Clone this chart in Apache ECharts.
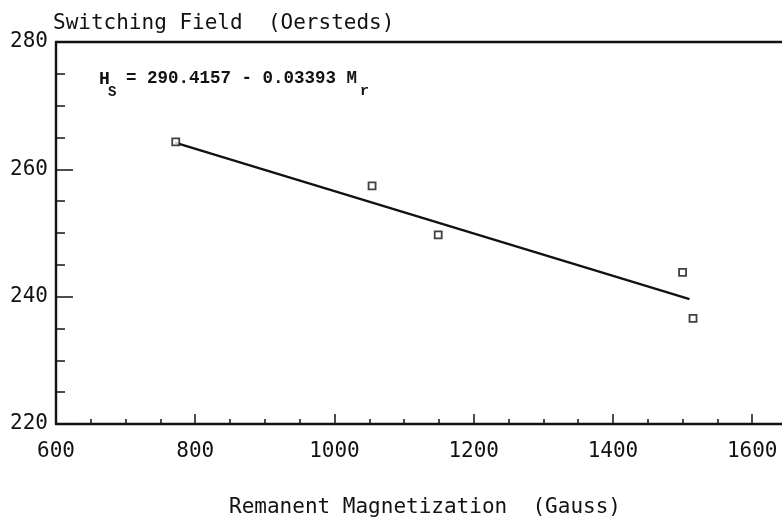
<!DOCTYPE html>
<html>
<head>
<meta charset="utf-8">
<style>html,body{margin:0;padding:0;background:#fff;}#c{width:782px;height:519px;}</style>
<script src="https://cdn.jsdelivr.net/npm/echarts@6/dist/echarts.min.js"></script>
</head>
<body>
<div id="c"></div>
<script>
// Data
var magX = [772, 1054, 1149, 1500, 1515];          // Remanent magnetization (Gauss)
var fieldY = [264.3, 257.4, 249.7, 243.8, 236.6];  // Switching field (Oersteds)
var fitX = [771, 1510];                             // regression line end points
var fitY = [264.2, 239.6];
var xTickLabels = [600, 800, 1000, 1200, 1400, 1600];
var yTickLabels = [220, 240, 260, 280];
var yTitle = 'Switching Field  (Oersteds)';
var xTitle = 'Remanent Magnetization  (Gauss)';
var eqMain = '= 290.4157 - 0.03393 M';

var ink = '#121212';
var mono = '"DejaVu Sans Mono", monospace';
var eqFont = '"Liberation Mono", "DejaVu Sans Mono", monospace';

var chart = echarts.init(document.getElementById('c'), null, {renderer: 'canvas'});
var xMin = 600, xMax = 1650, yMin = 220, yMax = 280;

function pairs(xs, ys) { return xs.map(function (x, i) { return [x, ys[i]]; }); }

var baseLine = {show: true, onZero: false, lineStyle: {color: ink, width: 2.4}};

chart.setOption({
  backgroundColor: '#fff',
  animation: false,
  grid: {left: 56, top: 42, width: 731, bottom: 95, show: false, containLabel: false, outerBoundsMode: 'none'},
  xAxis: [
    {type: 'value', min: xMin, max: xMax, interval: 50, position: 'bottom',
     axisLine: baseLine,
     axisTick: {show: true, inside: true, length: 5, lineStyle: {color: ink, width: 1.5}},
     axisLabel: {show: false}, splitLine: {show: false}},
    {type: 'value', min: xMin, max: xMax, interval: 200, position: 'bottom',
     axisLine: {show: false},
     axisTick: {show: true, inside: true, length: 10, lineStyle: {color: ink, width: 1.5}},
     axisLabel: {show: true, margin: 17, color: ink, fontFamily: mono, fontSize: 21,
       formatter: function (v) { return xTickLabels.indexOf(v) >= 0 ? String(v) : ''; }},
     splitLine: {show: false}},
    {type: 'value', min: xMin, max: xMax, position: 'top',
     axisLine: baseLine, axisTick: {show: false}, axisLabel: {show: false}, splitLine: {show: false}}
  ],
  yAxis: [
    {type: 'value', min: yMin, max: yMax, interval: 5, position: 'left',
     axisLine: baseLine,
     axisTick: {show: true, inside: true, length: 9, lineStyle: {color: ink, width: 1.5}},
     axisLabel: {show: false}, splitLine: {show: false}},
    {type: 'value', min: yMin, max: yMax, interval: 20, position: 'left',
     axisLine: {show: false},
     axisTick: {show: true, inside: true, length: 17, lineStyle: {color: ink, width: 1.5}},
     axisLabel: {show: true, margin: 8, color: ink, fontFamily: mono, fontSize: 21,
       formatter: function (v) { return yTickLabels.indexOf(v) >= 0 ? String(v) : ''; }},
     splitLine: {show: false}}
  ],
  series: [
    {type: 'line', data: pairs(fitX, fitY), xAxisIndex: 0, yAxisIndex: 0,
     showSymbol: false, symbol: 'none', lineStyle: {color: ink, width: 2.3}, z: 3},
    {type: 'scatter', data: pairs(magX, fieldY), xAxisIndex: 0, yAxisIndex: 0,
     symbol: 'rect', symbolSize: 7,
     itemStyle: {color: '#fff', borderColor: ink, borderWidth: 1.8}, z: 4}
  ],
  graphic: [
    {type: 'text', x: 53, y: 24, style: {text: yTitle, font: '21px ' + mono, fill: ink, verticalAlign: 'middle', align: 'left'}},
    {type: 'text', x: 425, y: 508, style: {text: xTitle, font: '21px ' + mono, fill: ink, verticalAlign: 'middle', align: 'center'}},
    {type: 'text', x: 99, y: 79, style: {text: 'H', font: 'bold 18px ' + eqFont, fill: ink, verticalAlign: 'middle', align: 'left'}},
    {type: 'text', x: 108, y: 92, style: {text: 'S', font: 'bold 14px ' + eqFont, fill: ink, verticalAlign: 'middle', align: 'left'}},
    {type: 'text', x: 126, y: 79, style: {text: eqMain, font: 'bold 17.5px ' + eqFont, fill: ink, verticalAlign: 'middle', align: 'left'}},
    {type: 'text', x: 360, y: 91, style: {text: 'r', font: 'bold 15px ' + eqFont, fill: ink, verticalAlign: 'middle', align: 'left'}}
  ]
});
</script>
</body>
</html>
